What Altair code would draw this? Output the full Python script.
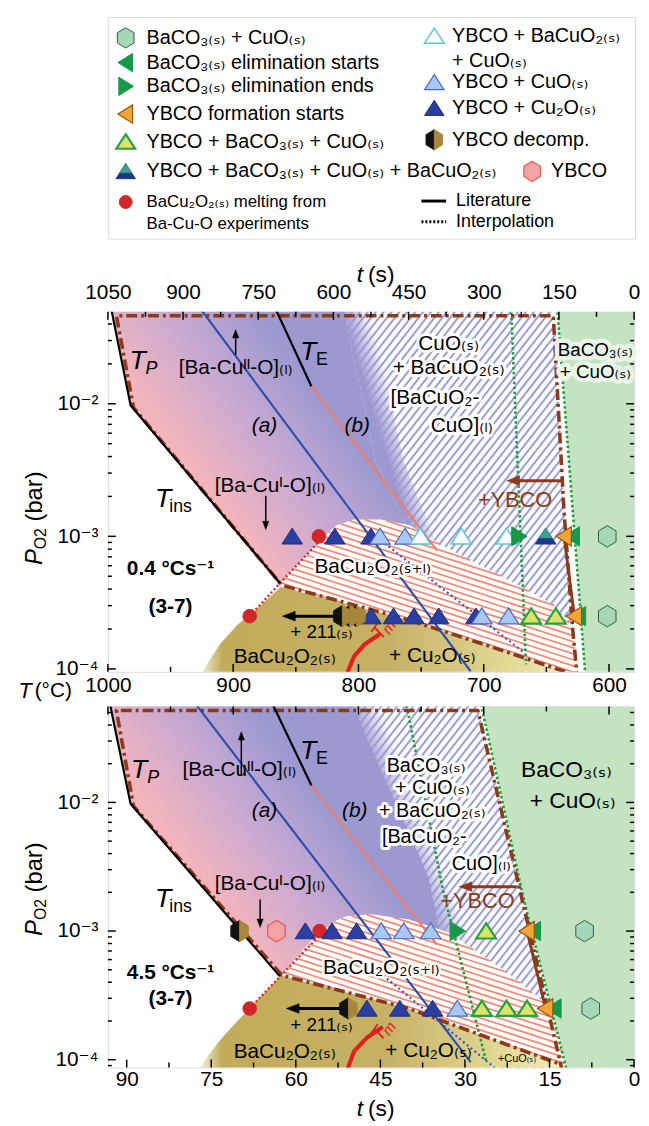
import numpy as np
import pandas as pd
import altair as alt

FONT = "Liberation Sans, DejaVu Sans, sans-serif"
_SUB = str.maketrans("0123456789()+-sl", "₀₁₂₃₄₅₆₇₈₉₍₎₊₋ₛₗ")
_SUP = str.maketrans("0123456789-I", "⁰¹²³⁴⁵⁶⁷⁸⁹⁻ᴵ")
def sb(s): return s.translate(_SUB)
def sp(s): return s.translate(_SUP)

S_ = sb("(s)")
BaCO3 = "BaCO" + sb("3(s)")
CuO = "CuO" + S_
BaCuO2 = "BaCuO" + sb("2(s)")
Cu2O = "Cu" + sb("2") + "O" + S_
BaCu2O2 = "BaCu" + sb("2") + "O" + sb("2(s)")

# ---------------- axes / scales ----------------
T_DOMAIN = [1000, 580]
T0 = 580
P_DOM_TOP = [9.5e-5, 0.0494]
P_DOM_BOT = [8.7e-5, 0.0557]
W = 532
H_TOP, H_BOT = 364, 365
T_MAJOR = [1000, 900, 800, 700, 600]
T_MINOR = [950, 850, 750, 650]
P_MAJOR = [1e-2, 1e-3, 1e-4]
TIME_TOP_MAJOR = [1050, 900, 750, 600, 450, 300, 150, 0]
TIME_TOP_MINOR = [975, 825, 675, 525, 375, 225, 75]
TIME_BOT_MAJOR = [90, 75, 60, 45, 30, 15, 0]
TIME_BOT_MINOR = [82.5, 67.5, 52.5, 37.5, 22.5, 7.5]
RATE_TOP, RATE_BOT = 0.4, 4.5

# ---------------- markers (T in °C, log10 P) ----------------
ROW_HI, ROW_LO = -3.0, float(np.log10(2.5e-4))
TOP_HI_T = [852.9, 831.6, 818.9, 790.0, 782.8, 762.8, 750.7, 717.9, 681.8, 671.9, 650.6, 635.9, 629.3, 601.4]
TOP_HI_K = ['blue', 'circ', 'blue', 'blue', 'lb', 'lb', 'white', 'white', 'white', 'gR', 'half', 'orL', 'gL', 'hexg']
TOP_LO_T = [886.8, 812.9, 807.0, 801.5, 790.0, 772.0, 755.6, 735.9, 706.3, 701.5, 680.2, 662.1, 642.5, 627.7, 624.4, 601.4]
TOP_LO_K = ['circ', 'dec', 'dec', 'dec', 'blue', 'blue', 'blue', 'blue', 'blue', 'lb', 'lb', 'yg', 'yg', 'orL', 'gL', 'hexg']
BOT_HI_T = [894.9, 865.4, 842.4, 831.0, 821.1, 801.5, 781.8, 763.8, 742.4, 721.1, 698.1, 665.4, 660.4, 619.5]
BOT_HI_K = ['dec', 'hexr', 'blue', 'circ', 'blue', 'blue', 'lb', 'lb', 'lb', 'gR', 'yg', 'orL', 'gL', 'hexg']
BOT_LO_T = [886.8, 808.0, 793.3, 767.0, 740.8, 721.1, 701.5, 681.8, 665.4, 650.6, 644.0, 614.6]
BOT_LO_K = ['circ', 'dec', 'blue', 'blue', 'blue', 'lb', 'yg', 'yg', 'yg', 'orL', 'gL', 'hexg']

# ---------------- lines (T, log10 P) ----------------
TP_T, TP_L = [999.1, 981.9, 862.7], [-1.2, -2.011, -3.352]
A_T, A_L = [932.7, 710.4], [-1.2, -4.019]
TE_T, TE_L = [870.3, 837.5], [-1.2, -1.869]
B_T, B_L = [837.5, 737.3], [-1.869, -3.105]
RD_T, RD_L = [886.8, 862.5, 832.7, 831.3], [ROW_LO, -3.352, -3.052, -3.0]

DD_TOP_T = [625, 629, 636, 644.5, 993.2, 979.5, 861, 760.2, 694.7, 632.3]
DD_TOP_L = [-4.1, -3.7, -2.8, -1.336, -1.336, -2.03, -3.37, -3.629, -3.831, -4.03]
GL_TOP_T, GL_TOP_L = [678.5, 666.3], [-1.2, -3.966]
GR_TOP_T, GR_TOP_L = [642, 618.5], [-1.2, -4.1]
BD_TOP_T, BD_TOP_L = [782.2, 667.9], [-3.03, -3.876]
TM_TOP_T, TM_TOP_L = [808.3, 803.4, 795.2, 783.8], [-4.016, -3.904, -3.816, -3.742]
YF_TOP_T, YF_TOP_L = [635.9, 627.7], [ROW_HI, ROW_LO]

DD_BOT_T = [637, 704.7, 993.2, 979.5, 861, 760.5, 639.2]
DD_BOT_L = [-4.1, -1.285, -1.285, -2.03, -3.345, -3.6, -4.034]
GL_BOT_T, GL_BOT_L = [761.5, 732.6, 698.2], [-1.25, -2.68, -4.009]
GR_BOT_T, GR_BOT_L = [703, 668.6, 633.3], [-1.2, -2.732, -4.1]
BD_BOT_T, BD_BOT_L = [783.4, 691.6], [-3.32, -4.06]
TM_BOT_T, TM_BOT_L = [808.3, 803.4, 793.4, 781.8], [-4.06, -3.933, -3.83, -3.753]
YF_BOT_T, YF_BOT_L = [665.4, 650.6], [ROW_HI, ROW_LO]

# ---------------- regions (polygons, T / log10 P) ----------------
GREEN_TOP = [(642, -1.2), (618.5, -4.1), (570, -4.1), (570, -1.2)]
GREEN_BOT = [(706, -1.2), (701.5, -1.263), (668.6, -2.732), (634.2, -4.06), (633.3, -4.1), (570, -4.1), (570, -1.2)]
HATCH_TOP = [(850, -1.2), (644.5, -1.2), (636, -2.8), (629, -3.7), (624.5, -4.1), (700, -4.1), (760, -3.7), (850, -3.3)]
HATCH_BOT = [(850, -1.2), (706, -1.2), (637, -4.1), (700, -4.1), (760, -3.7), (850, -3.3)]
LIQ_TOP = [(999.1, -1.2), (813.8, -1.2), (786.2, -2.43), (762.5, -2.9), (750, -3.5), (760.2, -3.629), (862, -3.382), (981.9, -2.011)]
LIQ_BOT = [(999.1, -1.2), (806.4, -1.2), (744, -2.58), (735, -3.0), (730, -3.5), (760.5, -3.6), (862, -3.345), (981.9, -2.011)]
FADE_TOP = [(813.8, -1.2), (786.2, -2.43), (762.5, -2.9), (750, -3.5), (725, -3.5), (738.9, -3.03), (764, -2.43), (791.7, -1.2)]
FADE_BOT = [(806.4, -1.2), (744, -2.58), (735, -3.0), (730, -3.5), (705, -3.5), (715, -3.0), (725, -2.58), (780, -1.2)]
SALMON_TOP = [(862.7, -3.352), (832.7, -3.052), (828, -3.007), (817.8, -2.918), (803.6, -2.873), (782.2, -2.873),
              (758.6, -2.918), (733.3, -3.067), (675.7, -3.352), (644.2, -3.517), (630, -3.667), (624, -4.05),
              (632.3, -4.03), (694.7, -3.831), (760.2, -3.629), (862, -3.382)]
SALMON_BOT = [(862, -3.345), (831, -3.0), (818, -2.92), (809.9, -2.885), (790, -2.87), (760.2, -2.908),
              (727, -3.015), (678.1, -3.345), (652, -3.552), (640.2, -3.805), (635, -4.03), (639.2, -4.034),
              (760.5, -3.6)]
OLIVE_TOP = [(930, -4.1), (910.8, -3.816), (896.6, -3.667), (884.8, -3.577), (862, -3.382), (760.2, -3.629),
             (694.7, -3.831), (632.3, -4.03), (625, -4.1)]
OLIVE_BOT = [(930, -4.1), (910.8, -3.85), (896.6, -3.7), (886.8, -3.6), (862, -3.345), (760.5, -3.6),
             (639.2, -4.034), (632, -4.1)]

# ---------------- styles ----------------
HEX = "M0,-1L0.82,-0.5L0.82,0.5L0,1L-0.82,0.5L-0.82,-0.5Z"
HEX_L = "M0,-1L-0.82,-0.5L-0.82,0.5L0,1Z"
HEX_R = "M0,-1L0.82,-0.5L0.82,0.5L0,1Z"
TRI_U = "M0,-0.8L1,0.75L-1,0.75Z"
TRI_TOP = "M0,-0.8L0.613,0.15L-0.613,0.15Z"
TRI_L = "M-0.85,0L0.75,-1L0.75,1Z"
TRI_R = "M0.85,0L-0.75,-1L-0.75,1Z"
HEAD = "M1,0L-1,-0.75L-1,0.75Z"

def st(shape, size, fill, stroke=None, sw=1.0):
    return dict(shape=shape, size=size, fill=fill, stroke=stroke or fill, sw=sw)

STYLES = {
    'gL': [st(TRI_L, 380, '#17994a')],
    'hexg': [st(HEX, 470, '#a7d7b9', '#2f5f3f', 1.0)],
    'circ': [st('circle', 190, '#d3262a')],
    'blue': [st(TRI_U, 430, '#2b3ea2', '#1a2a80', 1.0)],
    'lb': [st(TRI_U, 430, '#a8c8f1', '#4a68c0', 1.2)],
    'white': [st(TRI_U, 430, '#ffffff', '#58c8d8', 1.5)],
    'gR': [st(TRI_R, 380, '#17994a')],
    'half': [st(TRI_U, 430, '#1d3887', '#1d3887', 1.0), st(TRI_TOP, 430, '#3da38a', '#3da38a', 0.5)],
    'yg': [st(TRI_U, 400, '#dce36b', '#27a040', 2.2)],
    'dec': [st(HEX_L, 470, '#111111', '#111111', 0.8), st(HEX_R, 470, '#a8863a', '#a8863a', 0.8)],
    'hexr': [st(HEX, 470, '#f4a3a3', '#e05a5a', 1.2)],
    'orL': [st(TRI_L, 380, '#f1a634', '#955417', 1.2)],
}
DRAW_ORDER = ['gL', 'hexg', 'circ', 'blue', 'lb', 'white', 'gR', 'half', 'yg', 'dec', 'hexr', 'orL']
BROWN = '#8b3a1a'
DUMMY = pd.DataFrame({'a': [0]})


def to_px(T, lp, ppT, ppd):
    return ((T_DOMAIN[0] - T) * ppT, -lp * ppd)


def area_df(poly):
    Ts = set()
    for t, _ in poly:
        Ts.update([t - 0.01, t, t + 0.01])
    tmin = min(p[0] for p in poly); tmax = max(p[0] for p in poly)
    rows = []
    n = len(poly)
    for t in sorted(Ts):
        if t < tmin or t > tmax:
            continue
        ys = []
        for i in range(n):
            t1, l1 = poly[i]; t2, l2 = poly[(i + 1) % n]
            if t1 == t2:
                if abs(t - t1) < 1e-9:
                    ys += [l1, l2]
                continue
            if min(t1, t2) <= t <= max(t1, t2):
                ys.append(l1 + (t - t1) * (l2 - l1) / (t2 - t1))
        if ys:
            rows.append({'T': t, 'lo': 10 ** min(ys), 'hi': 10 ** max(ys)})
    return pd.DataFrame(rows)


def gradient(poly, ppT, ppd, iso, A, B, stops):
    pts = [to_px(t, l, ppT, ppd) for t, l in poly]
    us = [p[0] for p in pts]; vs = [p[1] for p in pts]
    umin, vmin = min(us), min(vs)
    Wb, Hb = max(us) - umin, max(vs) - vmin
    g = np.array([iso[1] / Hb, -iso[0] / Wb])
    Ap = to_px(*A, ppT, ppd); Bp = to_px(*B, ppT, ppd)
    An = np.array([(Ap[0] - umin) / Wb, (Ap[1] - vmin) / Hb])
    Bn = np.array([(Bp[0] - umin) / Wb, (Bp[1] - vmin) / Hb])
    k = (Bn - An).dot(g) / g.dot(g)
    En = An + k * g
    return alt.Gradient(gradient='linear', x1=float(An[0]), y1=float(An[1]), x2=float(En[0]), y2=float(En[1]),
                        stops=[alt.GradientStop(color=c, offset=o) for o, c in stops])


def hatch_df(poly, ppT, ppd, angle, spacing):
    pts = [np.array(to_px(t, l, ppT, ppd)) for t, l in poly]
    a = np.radians(angle)
    d = np.array([np.cos(a), -np.sin(a)])
    nr = np.array([np.sin(a), np.cos(a)])
    cs = [p.dot(nr) for p in pts]
    rows = []
    c = min(cs) + spacing / 2
    while c < max(cs):
        hits = []
        for i in range(len(pts)):
            p1, p2 = pts[i], pts[(i + 1) % len(pts)]
            s1, s2 = p1.dot(nr) - c, p2.dot(nr) - c
            if (s1 < 0) != (s2 < 0):
                hits.append(p1 + (p2 - p1) * (s1 / (s1 - s2)))
        hits.sort(key=lambda q: q.dot(d))
        for j in range(0, len(hits) - 1, 2):
            q1, q2 = hits[j], hits[j + 1]
            rows.append({'T1': T_DOMAIN[0] - q1[0] / ppT, 'P1': 10 ** (-q1[1] / ppd),
                         'T2': T_DOMAIN[0] - q2[0] / ppT, 'P2': 10 ** (-q2[1] / ppd)})
        c += spacing
    return pd.DataFrame(rows)


def tx(T, lp, text, size=20, it=False, bold=False, color='black', align='center', angle=0, dx=0, dy=0,
       halo=None, hw=6):
    return dict(T=T, lp=lp, text=text, size=size, it=it, bold=bold, color=color, align=align,
                angle=angle % 360, dx=dx, dy=dy, halo=halo, hw=hw)


def build_panel(cfg):
    H, pdom = cfg['H'], cfg['pdom']
    xs = alt.Scale(domain=T_DOMAIN, nice=False, zero=False)
    ys = alt.Scale(type='log', domain=pdom, nice=False)
    ppT = W / (T_DOMAIN[0] - T_DOMAIN[1])
    ppd = H / (np.log10(pdom[1]) - np.log10(pdom[0]))
    X = lambda f: alt.X(f + ':Q', scale=xs, axis=None)
    Y = lambda f: alt.Y(f + ':Q', scale=ys, axis=None)
    layers = []

    def area(poly, color):
        layers.append(alt.Chart(area_df(poly)).mark_area(color=color, clip=True, interpolate='linear')
                      .encode(x=X('T'), y=Y('hi'), y2='lo:Q'))

    def hatch(poly, angle, spacing, color, width):
        layers.append(alt.Chart(hatch_df(poly, ppT, ppd, angle, spacing))
                      .mark_rule(color=color, strokeWidth=width, clip=True)
                      .encode(x=X('T1'), x2='T2:Q', y=Y('P1'), y2='P2:Q'))

    def line(Ts, Ls, color, width, dash=None, cap='butt'):
        df = pd.DataFrame({'T': Ts, 'P': [10 ** l for l in Ls], 'i': range(len(Ts))})
        kw = dict(color=color, strokeWidth=width, clip=True, strokeCap=cap, strokeJoin='round')
        if dash:
            kw['strokeDash'] = dash
        layers.append(alt.Chart(df).mark_line(**kw).encode(x=X('T'), y=Y('P'), order='i:Q'))

    def arrow(t1, l1, t2, l2, color, width, head, angle):
        line([t1, t2], [l1, l2], color, width)
        df = pd.DataFrame({'T': [t2], 'P': [10 ** l2]})
        layers.append(alt.Chart(df).mark_point(shape=HEAD, size=head, filled=True, fill=color, stroke=color,
                                               strokeWidth=0.5, opacity=1, angle=angle)
                      .encode(x=X('T'), y=Y('P')))

    # regions
    area(cfg['green'], '#c4e3c1')
    area(cfg['hatch'], '#ffffff')
    hatch(cfg['hatch'], 52, 6.3, '#9ea1d6', 2.1)
    liq = cfg['liq']
    area(liq, gradient(liq, ppT, ppd, (271, 362), (955, -2.2), (865, -1.5),
                       [(0, '#f3b5bd'), (0.5, '#c9a9d2'), (1, '#9b99d0')]))
    fade = cfg['fade']
    area(fade, gradient(fade, ppT, ppd, cfg['fade_iso'], cfg['fade_A'], cfg['fade_B'],
                        [(0, 'rgba(155,153,208,1)'), (1, 'rgba(155,153,208,0)')]))
    area(cfg['salmon'], '#ffffff')
    hatch(cfg['salmon'], -18, 5.8, '#f08c78', 1.8)
    area(cfg['olive'], alt.Gradient(gradient='linear', x1=0, y1=0, x2=1, y2=0, stops=[
        alt.GradientStop(color='rgba(194,172,90,0)', offset=0),
        alt.GradientStop(color='#c2ac5a', offset=0.07),
        alt.GradientStop(color='#c5b064', offset=0.5),
        alt.GradientStop(color='#e3d995', offset=0.82),
        alt.GradientStop(color='#f3eebf', offset=1)]))

    # lines
    for Ts, Ls in cfg['green_dotted']:
        line(Ts, Ls, '#1f9a3a', 2.6, [2.5, 2.5])
    line(*cfg['blue_dotted'], '#3556d0', 2.2, [2, 3])
    line(RD_T, RD_L, '#d4282a', 2.4, [2, 2.5])
    line(*cfg['dashdot'], BROWN, 3.6, [11, 4, 3, 4])
    line(TP_T, TP_L, 'black', 2.2)
    line(A_T, A_L, '#2b4bab', 2.1)
    line(TE_T, TE_L, 'black', 2.2)
    line(B_T, B_L, '#f27a6a', 2.1)
    line(*cfg['tm'], '#e0201a', 4.2, None, 'round')
    line(*cfg['yf'], BROWN, 3)
    for a in cfg['arrows']:
        arrow(*a)

    # texts
    for it in cfg['texts']:
        df = pd.DataFrame({'T': [it['T']], 'P': [10 ** it['lp']], 'txt': [it['text']]})
        base = dict(fontSize=it['size'], font=FONT, fontStyle='italic' if it['it'] else 'normal',
                    fontWeight='bold' if it['bold'] else 'normal', align=it['align'], baseline='middle',
                    angle=it['angle'], dx=it['dx'], dy=it['dy'])
        enc = dict(x=X('T'), y=Y('P'), text='txt:N')
        if it['halo']:
            layers.append(alt.Chart(df).mark_text(**base, color=it['halo'], stroke=it['halo'],
                                                  strokeWidth=it['hw'], strokeJoin='round').encode(**enc))
        layers.append(alt.Chart(df).mark_text(**base, color=it['color']).encode(**enc))

    # markers
    rows = []
    for Ts, lp, Ks in cfg['markers']:
        for t, k in zip(Ts, Ks):
            rows.append({'T': t, 'P': 10 ** lp, 'k': k})
    mdf = pd.DataFrame(rows)
    for kind in DRAW_ORDER:
        sub = mdf[mdf.k == kind]
        if sub.empty:
            continue
        for s in STYLES[kind]:
            layers.append(alt.Chart(sub).mark_point(shape=s['shape'], size=s['size'], filled=True,
                                                    fill=s['fill'], stroke=s['stroke'], strokeWidth=s['sw'],
                                                    opacity=1, fillOpacity=1)
                          .encode(x=X('T'), y=Y('P')))

    # inward ticks
    def xticks(vals, length, top):
        df = pd.DataFrame({'T': vals})
        y0 = 0 if top else H
        y1 = length if top else H - length
        layers.append(alt.Chart(df).mark_rule(color='black', strokeWidth=1.5)
                      .encode(x=X('T'), y=alt.value(y0), y2=alt.value(y1)))

    def yticks(vals, length):
        df = pd.DataFrame({'P': vals})
        for x0, x1 in [(0, length), (W, W - length)]:
            layers.append(alt.Chart(df).mark_rule(color='black', strokeWidth=1.5)
                          .encode(y=Y('P'), x=alt.value(x0), x2=alt.value(x1)))

    xticks(T_MAJOR, 8, cfg['t_top'])
    xticks(T_MINOR, 5, cfg['t_top'])
    xticks([T0 + cfg['rate'] * t for t in cfg['time_major']], 8, not cfg['t_top'])
    xticks([T0 + cfg['rate'] * t for t in cfg['time_minor']], 5, not cfg['t_top'])
    lo, hi = np.log10(pdom[0]), np.log10(pdom[1])
    minors = [m * 10 ** e for e in range(-5, 0) for m in range(2, 10) if lo < np.log10(m * 10 ** e) < hi]
    yticks(P_MAJOR, 8)
    yticks(minors, 4)

    # axis labels (native)
    yexpr = "datum.value > 0.005 ? '10⁻²' : (datum.value > 0.0005 ? '10⁻³' : '10⁻⁴')"
    lab = dict(ticks=False, domain=False, grid=False, labelFontSize=21, title=None, labelFlush=False,
               labelOverlap=False, labelColor='black', labelFont=FONT)
    ydummy = pd.DataFrame({'T': [800.0], 'P': [1e-3]})
    time_vals = [round(T0 + cfg['rate'] * t, 6) for t in cfg['time_major']]
    time_expr = f"format(round((datum.value - {T0}) / {cfg['rate']}), 'd')"
    y_axis = alt.Axis(orient='left', values=P_MAJOR, labelExpr=yexpr, labelPadding=10, **lab)
    if cfg['t_top']:
        # bottom panel: time labels at the bottom, temperature labels are shared with the upper panel
        layers.append(alt.Chart(ydummy).mark_point(opacity=0).encode(
            x=alt.X('T:Q', scale=xs, axis=alt.Axis(orient='bottom', values=time_vals, labelExpr=time_expr,
                                                   labelPadding=cfg['time_pad'], **lab)),
            y=alt.Y('P:Q', scale=ys, axis=y_axis)))
    else:
        layers.append(alt.Chart(ydummy).mark_point(opacity=0).encode(
            x=alt.X('T:Q', scale=xs, axis=alt.Axis(orient='bottom', values=T_MAJOR, format='d',
                                                   labelPadding=3, **lab)),
            y=alt.Y('P:Q', scale=ys, axis=y_axis)))
        layers.append(alt.Chart(ydummy).mark_point(opacity=0).encode(
            x=alt.X('T:Q', scale=xs, axis=alt.Axis(orient='top', values=time_vals, labelExpr=time_expr,
                                                   labelPadding=cfg['time_pad'], **lab)),
            y=alt.Y('P:Q', scale=ys, axis=None)))

    # titles (outside the plot area)
    def ptext(x, y, text, size, it=False, align='center', angle=0, dx=0, dy=0):
        layers.append(alt.Chart(DUMMY).mark_text(text=text, fontSize=size, font=FONT,
                                                 fontStyle='italic' if it else 'normal', align=align,
                                                 baseline='middle', angle=angle, dx=dx, dy=dy, color='black')
                      .encode(x=alt.value(x), y=alt.value(y)))

    ty = cfg['tcap_y']
    ptext(W / 2 - 8, ty, 't', 23, it=True, align='right')
    ptext(W / 2 - 3, ty, '(s)', 23, align='left')
    yc = cfg['ytitle_y']
    ptext(-74, yc, 'P', 24, it=True, align='left', angle=270, dx=-50)
    ptext(-74, yc, 'O2', 16, align='left', angle=270, dx=-34, dy=6)
    ptext(-74, yc, '(bar)', 24, align='left', angle=270, dx=-6)
    if not cfg['t_top']:
        ptext(-74, H + 19, '(°C)', 21, align='left')
        ptext(-77, H + 19, 'T', 22, it=True, align='right')
        layers.append(alt.Chart(DUMMY).mark_rule(opacity=0, strokeWidth=1)
                      .encode(x=alt.value(-100.5), y=alt.value(0), y2=alt.value(10)))

    return alt.layer(*layers).resolve_axis(x='independent', y='independent').properties(width=W, height=H)


# ---------------- text annotations ----------------
TXT_TOP = [
    tx(976.3, -1.68, 'T', 27, it=True), tx(976.3, -1.68, 'P', 18, it=True, dx=14, dy=8),
    tx(898, -1.734, '[Ba-Cu' + sp('II') + '-O]' + sb('(l)'), 21),
    tx(840.2, -1.611, 'T', 27, it=True), tx(840.2, -1.611, 'E', 18, dx=14, dy=8),
    tx(875, -2.17, '(a)', 21, it=True), tx(801, -2.17, '(b)', 21, it=True),
    tx(728, -1.547, CuO, 21, halo='white'), tx(728, -1.734, '+ ' + BaCuO2, 21, halo='white'),
    tx(739, -1.959, '[BaCuO' + sb('2') + '-', 21, halo='white'), tx(717.5, -2.169, 'CuO]' + sb('(l)'), 21, halo='white'),
    tx(611, -1.592, BaCO3, 19, halo='#e9f5e7', hw=9), tx(611, -1.757, '+ ' + CuO, 19, halo='#e9f5e7', hw=9),
    tx(955.8, -2.716, 'T', 27, it=True), tx(955.8, -2.716, 'ins', 18, align='left', dx=6, dy=8),
    tx(870.6, -2.618, '[Ba-Cu' + sp('I') + '-O]' + sb('(l)'), 21),
    tx(675, -2.73, '+YBCO', 22, color=BROWN),
    tx(788.6, -3.232, 'BaCu' + sb('2') + 'O' + sb('2(s+l)'), 21, halo='white', hw=5),
    tx(950, -3.25, '0.4 °Cs' + sp('-1'), 21, bold=True), tx(950, -3.53, '(3-7)', 21, bold=True),
    tx(829.6, -3.72, '+ 211' + S_, 19),
    tx(858.8, -3.91, BaCu2O2, 21), tx(741, -3.9, '+ ' + Cu2O, 21),
    tx(783.4, -3.727, 'T', 20, it=True, color='#e0201a', angle=-55),
    tx(783.4, -3.727, 'm', 15, it=True, color='#e0201a', angle=-55, dx=10, dy=5),
]
TXT_BOT = [
    tx(975, -1.746, 'T', 27, it=True), tx(975, -1.746, 'P', 18, it=True, dx=14, dy=8),
    tx(895, -1.751, '[Ba-Cu' + sp('II') + '-O]' + sb('(l)'), 21),
    tx(840.2, -1.598, 'T', 27, it=True), tx(840.2, -1.598, 'E', 18, dx=14, dy=8),
    tx(875, -2.065, '(a)', 21, it=True), tx(803, -2.065, '(b)', 21, it=True),
    tx(746, -1.72, BaCO3, 20, halo='white'), tx(741, -1.889, '+ ' + CuO, 20, halo='white'),
    tx(741, -2.065, '+ ' + BaCuO2, 20, halo='white'), tx(747.5, -2.272, '[BaCuO' + sb('2') + '-', 20, halo='white'),
    tx(702, -2.479, 'CuO]' + sb('(l)'), 20, halo='white'),
    tx(634, -1.751, BaCO3, 23), tx(629, -1.988, '+ ' + CuO, 23),
    tx(955.8, -2.755, 'T', 27, it=True), tx(955.8, -2.755, 'ins', 18, align='left', dx=6, dy=8),
    tx(870.6, -2.632, '[Ba-Cu' + sp('I') + '-O]' + sb('(l)'), 21),
    tx(705, -2.77, '+YBCO', 22, color=BROWN),
    tx(781.8, -3.291, 'BaCu' + sb('2') + 'O' + sb('2(s+l)'), 21, halo='white', hw=5),
    tx(950, -3.33, '4.5 °Cs' + sp('-1'), 21, bold=True), tx(950, -3.53, '(3-7)', 21, bold=True),
    tx(829.6, -3.73, '+ 211' + S_, 19),
    tx(858.8, -3.94, BaCu2O2, 21), tx(744, -3.935, '+ ' + Cu2O, 21),
    tx(673.4, -3.996, '+' + CuO, 11),
    tx(783.4, -3.8, 'T', 20, it=True, color='#e0201a', angle=-55),
    tx(783.4, -3.8, 'm', 15, it=True, color='#e0201a', angle=-55, dx=10, dy=5),
]

CFG_TOP = dict(
    H=H_TOP, pdom=P_DOM_TOP, rate=RATE_TOP, t_top=False, time_major=TIME_TOP_MAJOR, time_minor=TIME_TOP_MINOR,
    time_pad=9, tcap_y=-37, ytitle_y=206,
    green=GREEN_TOP, hatch=HATCH_TOP, liq=LIQ_TOP, fade=FADE_TOP, fade_iso=(67, 216),
    fade_A=(813.8, -1.3), fade_B=(791.7, -1.3), salmon=SALMON_TOP, olive=OLIVE_TOP,
    green_dotted=[(GL_TOP_T, GL_TOP_L), (GR_TOP_T, GR_TOP_L)], blue_dotted=(BD_TOP_T, BD_TOP_L),
    dashdot=(DD_TOP_T, DD_TOP_L), tm=(TM_TOP_T, TM_TOP_L), yf=(YF_TOP_T, YF_TOP_L),
    arrows=[(636.3, -2.58, 676.5, -2.58, BROWN, 3, 170, 180),
            (816, ROW_LO, 855.6, ROW_LO, 'black', 3, 170, 180),
            (898, -1.63, 898, -1.472, 'black', 1.5, 70, 270),
            (874, -2.693, 874, -2.918, 'black', 1.5, 70, 90)],
    texts=TXT_TOP,
    markers=[(TOP_HI_T, ROW_HI, TOP_HI_K), (TOP_LO_T, ROW_LO, TOP_LO_K)],
)
CFG_BOT = dict(
    H=H_BOT, pdom=P_DOM_BOT, rate=RATE_BOT, t_top=True, time_major=TIME_BOT_MAJOR, time_minor=TIME_BOT_MINOR,
    time_pad=1, tcap_y=H_BOT + 42, ytitle_y=182,
    green=GREEN_BOT, hatch=HATCH_BOT, liq=LIQ_BOT, fade=FADE_BOT, fade_iso=(86, 222),
    fade_A=(806.4, -1.3), fade_B=(780, -1.3), salmon=SALMON_BOT, olive=OLIVE_BOT,
    green_dotted=[(GL_BOT_T, GL_BOT_L), (GR_BOT_T, GR_BOT_L)], blue_dotted=(BD_BOT_T, BD_BOT_L),
    dashdot=(DD_BOT_T, DD_BOT_L), tm=(TM_BOT_T, TM_BOT_L), yf=(YF_BOT_T, YF_BOT_L),
    arrows=[(673.7, -2.655, 714.6, -2.655, BROWN, 3, 170, 180),
            (809.9, ROW_LO, 852.5, ROW_LO, 'black', 3, 170, 180),
            (893.5, -1.79, 893.5, -1.483, 'black', 1.5, 70, 270),
            (878.5, -2.755, 878.5, -2.939, 'black', 1.5, 70, 90)],
    texts=TXT_BOT,
    markers=[(BOT_HI_T, ROW_HI, BOT_HI_K), (BOT_LO_T, ROW_LO, BOT_LO_K)],
)

# ---------------- legend ----------------
LEG_W, LEG_H = 533, 224
LEG_LEFT_K = ['hexg', 'gL', 'gR', 'orL', 'yg', 'half', 'circ']
LEG_LEFT_TXT = [BaCO3 + ' + ' + CuO, BaCO3 + ' elimination starts', BaCO3 + ' elimination ends',
                'YBCO formation starts', 'YBCO + ' + BaCO3 + ' + ' + CuO,
                'YBCO + ' + BaCO3 + ' + ' + CuO + ' + ' + BaCuO2, BaCu2O2 + ' melting from']
LEG_LEFT_TXT2 = 'Ba-Cu-O experiments'
LEG_RIGHT_K = ['white', 'lb', 'blue', 'dec']
LEG_RIGHT_TXT = ['YBCO + ' + BaCuO2, 'YBCO + ' + CuO, 'YBCO + ' + Cu2O, 'YBCO decomp.']
LEG_RIGHT_TXT2 = '+ ' + CuO
LEG_YBCO = 'YBCO'
LEG_LINES = ['Literature', 'Interpolation']

ROWS_L = [21, 46, 70, 98, 126, 156, 187]
ROWS_R = [19, 66, 92, 124]
COL_L, COL_R, COL_R2 = (18, 39), (330, 348), (429, 448)


def build_legend():
    lx = alt.Scale(domain=[0, LEG_W], nice=False, zero=False)
    ly = alt.Scale(domain=[0, LEG_H], nice=False, zero=False, reverse=True)
    X = lambda f: alt.X(f + ':Q', scale=lx, axis=None)
    Y = lambda f: alt.Y(f + ':Q', scale=ly, axis=None)
    sym = [(COL_L[0], ROWS_L[i], k) for i, k in enumerate(LEG_LEFT_K)]
    sym += [(COL_R[0], ROWS_R[i], k) for i, k in enumerate(LEG_RIGHT_K)]
    sym += [(COL_R2[0], 156, 'hexr')]
    sdf = pd.DataFrame(sym, columns=['x', 'y', 'k'])
    txt = [(COL_L[1], ROWS_L[i], t, 20) for i, t in enumerate(LEG_LEFT_TXT[:-1])]
    txt += [(COL_L[1], ROWS_L[-1], LEG_LEFT_TXT[-1], 17), (COL_L[1], 209, LEG_LEFT_TXT2, 17)]
    txt += [(COL_R[1], ROWS_R[i], t, 20) for i, t in enumerate(LEG_RIGHT_TXT)]
    txt += [(COL_R[1], 44, LEG_RIGHT_TXT2, 20), (COL_R2[1], 156, LEG_YBCO, 20),
            (352, 186, LEG_LINES[0], 18), (352, 207, LEG_LINES[1], 18)]
    tdf = pd.DataFrame(txt, columns=['x', 'y', 'txt', 's'])
    layers = []
    for kind in DRAW_ORDER:
        sub = sdf[sdf.k == kind]
        if sub.empty:
            continue
        for s in STYLES[kind]:
            layers.append(alt.Chart(sub).mark_point(shape=s['shape'], size=s['size'] * 0.9, filled=True,
                                                    fill=s['fill'], stroke=s['stroke'], strokeWidth=s['sw'],
                                                    opacity=1).encode(x=X('x'), y=Y('y')))
    for size in sorted(tdf.s.unique()):
        layers.append(alt.Chart(tdf[tdf.s == size]).mark_text(align='left', baseline='middle', fontSize=float(size),
                                                                font=FONT, color='black')
                      .encode(x=X('x'), y=Y('y'), text='txt:N'))
    ldf = pd.DataFrame({'x1': [317, 317], 'x2': [342, 342], 'y': [186, 207], 'kind': ['lit', 'int']})
    layers.append(alt.Chart(ldf[ldf.kind == 'lit']).mark_rule(color='black', strokeWidth=3)
                  .encode(x=X('x1'), x2='x2:Q', y=Y('y')))
    layers.append(alt.Chart(ldf[ldf.kind == 'int']).mark_rule(color='black', strokeWidth=3, strokeDash=[2, 2])
                  .encode(x=X('x1'), x2='x2:Q', y=Y('y')))
    return alt.layer(*layers).properties(width=LEG_W, height=LEG_H)


top = build_panel(CFG_TOP)
bot = build_panel(CFG_BOT)
panels = alt.vconcat(top, bot, spacing=35, bounds='flush')
chart = alt.vconcat(build_legend(), panels, spacing=74, bounds='flush').properties(
    padding={'left': 0, 'top': 2, 'right': 0, 'bottom': 0}
).configure_view(stroke='black', strokeWidth=2).configure(font=FONT)

chart.save("out.html", embed_options={"renderer": "svg", "actions": False})
